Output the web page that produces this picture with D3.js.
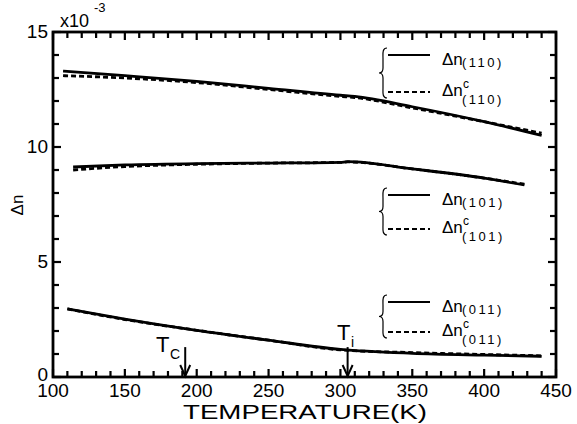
<!DOCTYPE html>
<html><head><meta charset="utf-8">
<script src="https://cdn.jsdelivr.net/npm/d3@7"></script>
<style>body{margin:0;background:#fff} text{font-family:"Liberation Sans",Arial,Helvetica,sans-serif;fill:#000}</style>
</head><body><svg id="c" width="577" height="424"></svg>
<script>
// ---- data ----
const temp110 = [107,150,200,250,300,310,350,400,440];
const n110    = [13.3,13.1,12.85,12.55,12.25,12.2,11.75,11.1,10.5];
const n110c   = [13.1,13.0,12.8,12.5,12.2,12.15,11.7,11.1,10.6];
const temp101 = [114,150,200,250,300,305,350,400,428];
const n101    = [9.13,9.22,9.28,9.3,9.33,9.36,9.05,8.65,8.35];
const n101c   = [9.0,9.15,9.25,9.3,9.33,9.35,9.05,8.65,8.38];
const temp011 = [110,150,200,250,300,350,400,440];
const n011    = [2.96,2.52,2.03,1.6,1.2,1.03,0.95,0.9];
const n011c   = [2.96,2.5,2.03,1.6,1.18,1.06,0.98,0.92];
const xTicks = [100,150,200,250,300,350,400,450];
const yTicks = [0,5,10,15];
const Tc = 192, Ti = 305;
const legendLabels = ["(110)","(101)","(011)"];

// ---- layout ----
const svg = d3.select("#c");
const L=53, R=556, T=32, B=377;
const x = d3.scaleLinear().domain([100,450]).range([L,R]);
const y = d3.scaleLinear().domain([0,15]).range([B,T]);

// frame
svg.append("rect").attr("x",L).attr("y",T).attr("width",R-L).attr("height",B-T)
  .attr("fill","none").attr("stroke","#000").attr("stroke-width",2.8);

// ticks (inward)
const g = svg.append("g").attr("stroke","#000").attr("stroke-width",2.2);
d3.range(100,451,10).forEach(v=>{
  const len = v%50===0 ? 8 : 6;
  g.append("line").attr("x1",x(v)).attr("x2",x(v)).attr("y1",B).attr("y2",B-len);
  g.append("line").attr("x1",x(v)).attr("x2",x(v)).attr("y1",T).attr("y2",T+len);
});
d3.range(0,15.01,1).forEach(v=>{
  const len = v%5===0 ? 8 : 6;
  g.append("line").attr("y1",y(v)).attr("y2",y(v)).attr("x1",L).attr("x2",L+len);
  g.append("line").attr("y1",y(v)).attr("y2",y(v)).attr("x1",R).attr("x2",R-len);
});

// tick labels
xTicks.forEach(v=>{
  svg.append("text").attr("x",x(v)).attr("y",B+20).attr("text-anchor","middle")
    .attr("font-size",19).text(v);
});
yTicks.forEach(v=>{
  svg.append("text").attr("x",L-5).attr("y",y(v)+ (v===0?4:6)).attr("text-anchor","end")
    .attr("font-size",19).text(v);
});
svg.append("text").attr("x",60).attr("y",27).attr("font-size",18).text("x10");
svg.append("text").attr("x",94).attr("y",12).attr("font-size",13).text("-3");

// axis titles
svg.append("text").attr("x",305).attr("y",419).attr("text-anchor","middle")
  .attr("font-size",21).attr("textLength",244).attr("lengthAdjust","spacingAndGlyphs").text("TEMPERATURE(K)");
svg.append("text").attr("transform","translate(23,205) rotate(-90)").attr("text-anchor","middle")
  .attr("font-size",17).text("Δn");

// curves
const line = d3.line().x(d=>x(d[0])).y(d=>y(d[1])).curve(d3.curveMonotoneX);
function draw(ts, vs, dashed){
  svg.append("path").datum(ts.map((t,i)=>[t,vs[i]])).attr("d",line)
    .attr("fill","none").attr("stroke","#000").attr("stroke-width",2.8)
    .attr("stroke-dasharray",dashed?"5,3":null);
}
draw(temp110,n110,false); draw(temp110,n110c,true);
draw(temp101,n101,false); draw(temp101,n101c,true);
draw(temp011,n011,false); draw(temp011,n011c,true);

// legends
const legPos = [[55,37],[195,34],[302,30]];
legPos.forEach(([y0,gap],i)=>{
  const lg = svg.append("g");
  const y1 = y0+gap;
  // brace
  const top=y0-7, bot=y1+6, mid=(top+bot)/2, bx=386, tx=379;
  lg.append("path").attr("d",
    `M${bx+1},${top} C${bx-4},${top} ${bx-3},${top+6} ${bx-3},${top+10} L${bx-3},${mid-5} C${bx-3},${mid-1} ${tx+2},${mid} ${tx},${mid}`+
    ` C${tx+2},${mid} ${bx-3},${mid+1} ${bx-3},${mid+5} L${bx-3},${bot-10} C${bx-3},${bot-6} ${bx-4},${bot} ${bx+1},${bot}`)
    .attr("fill","none").attr("stroke","#000").attr("stroke-width",1.2);
  lg.append("line").attr("x1",388).attr("x2",430).attr("y1",y0).attr("y2",y0)
    .attr("stroke","#000").attr("stroke-width",2);
  lg.append("line").attr("x1",388).attr("x2",430).attr("y1",y1).attr("y2",y1)
    .attr("stroke","#000").attr("stroke-width",2).attr("stroke-dasharray","5,3");
  lg.append("text").attr("x",442).attr("y",y0+10).attr("font-size",17).text("Δn");
  lg.append("text").attr("x",462).attr("y",y0+12).attr("font-size",13).attr("letter-spacing",2.5).text(legendLabels[i]);
  lg.append("text").attr("x",442).attr("y",y1+4).attr("font-size",17).text("Δn");
  lg.append("text").attr("x",463).attr("y",y1-4).attr("font-size",12).text("c");
  lg.append("text").attr("x",462).attr("y",y1+12).attr("font-size",13).attr("letter-spacing",2.5).text(legendLabels[i]);
});

// transition markers
function arrow(t, label, sub, lx, ly){
  const ax = x(t), top = y(1.3);
  svg.append("line").attr("x1",ax).attr("x2",ax).attr("y1",top).attr("y2",B-1)
    .attr("stroke","#000").attr("stroke-width",2);
  svg.append("path").attr("d",`M${ax-5},${B-12} L${ax},${B-1} L${ax+5},${B-12}`)
    .attr("fill","none").attr("stroke","#000").attr("stroke-width",2);
  svg.append("text").attr("x",lx).attr("y",ly).attr("font-size",22).text(label);
  svg.append("text").attr("x",lx+14).attr("y",ly+7).attr("font-size",14).text(sub);
}
arrow(Tc,"T","C",156,352);
arrow(Ti,"T","i",337,340);
</script></body></html>
